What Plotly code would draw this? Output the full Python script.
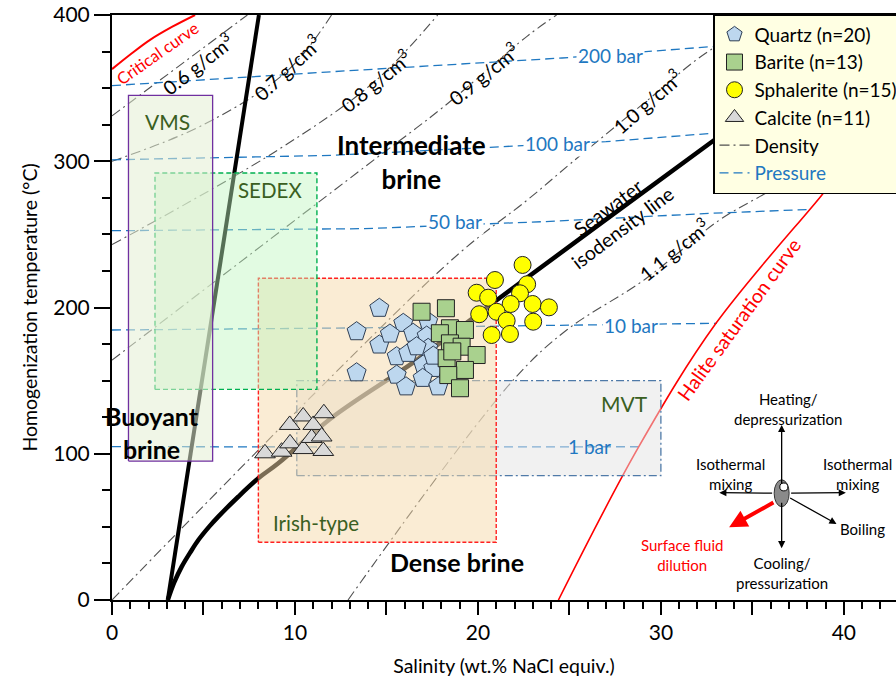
import plotly.graph_objects as go

# ---------------- data ----------------
quartz_x = [14.61, 13.37, 14.61, 13.37, 15.92, 15.19, 16.46, 17.28, 17.20, 15.56,
            16.19, 17.28, 17.01, 17.56, 15.56, 16.07, 16.98, 17.83, 17.56, 16.65]
quartz_y = [199.5, 183.5, 174.4, 155.4, 189.2, 181.9, 182.4, 190.3, 180.5, 166.4,
            168.7, 172.1, 160.7, 158.4, 153.8, 145.8, 151.6, 145.8, 166.8, 173.2]

barite_x = [16.92, 18.25, 18.47, 17.92, 19.29, 18.47, 19.11, 19.93, 18.29, 19.29, 18.38, 19.02, 18.60]
barite_y = [197.1, 199.5, 185.8, 182.4, 184.6, 175.5, 173.2, 167.5, 165.3, 157.3, 153.8, 144.8, 170.0]

sphal_x = [22.44, 20.93, 22.69, 19.93, 20.56, 22.30, 21.79, 22.99, 23.88, 20.07, 21.02, 21.57, 23.02, 20.75, 21.75]
sphal_y = [229.1, 218.8, 215.9, 210.1, 206.7, 209.7, 202.4, 202.4, 200.1, 195.4, 197.1, 191.0, 190.3, 181.2, 181.9]

calcite_x = [8.36, 9.27, 9.73, 10.45, 11.55, 9.71, 10.45, 11.00, 11.58, 10.91, 11.46]
calcite_y = [100.3, 101.4, 107.1, 103.2, 101.9, 119.7, 125.5, 119.7, 127.7, 110.8, 111.8]

# density isochores (g/cm3)
dens_labels = ["0.6", "0.7", "0.8", "0.9", "1.0", "1.1"]
dens_x = [[0, 7.4],
          [0, 5.0, 9.6, 12.0],
          [0, 9.1, 14.4, 17.8],
          [0, 13.8, 18.1, 22.7, 24.3],
          [0, 11.26, 19.0, 22.7, 25.1, 29.2, 32.7, 36.5],
          [12.9, 21.93, 24.85, 29.1, 33.2, 35.4, 37.5]]
dens_y = [[331, 400],
          [300, 325, 362, 400],
          [243, 308, 355, 400],
          [164, 296, 337, 385.6, 400],
          [0, 143.6, 237.3, 273.5, 298.8, 341, 376, 400],
          [0, 150.4, 184.6, 219, 259.8, 275.8, 290]]

# pressure lines (bar)
pres_labels = ["200 bar", "100 bar", "50 bar", "10 bar", "1 bar"]
pres_x = [[0, 12, 24.6, 32.7, 43],
          [0, 12, 22, 27, 32.7, 43],
          [0, 13.8, 23.6, 32.7, 38.0],
          [0, 12.9, 33.06],
          [0, 12.46, 28.8]]
pres_y = [[351.7, 361.2, 370.6, 378.3, 386],
          [301, 304, 310.4, 313.4, 319, 327],
          [252.5, 253.9, 258.7, 264.4, 267],
          [184.6, 186, 189.2],
          [104.9, 104.6, 104.8]]

seawater_x = [3.05, 3.4, 3.81, 4.3, 4.72, 5.3, 5.81, 6.9, 8.0, 9.09, 12.08, 16.65, 21.02, 32.68, 36.5]
seawater_y = [0, 12, 22.8, 33, 41, 50, 57, 70.6, 83.2, 93.5, 125.3, 164, 205, 312.3, 347]

buoyant_x = [3.05, 8.03]
buoyant_y = [0, 400]

critical_x = [0, 1.0, 2.08, 3.3, 4.54]
critical_y = [363, 373, 383, 392, 400]

halite_x = [24.4, 28.8, 33.0, 38.8, 39.6]
halite_y = [0, 105, 189, 277, 290]

# deposit-type fields: name, x0, x1, y0, y1
box_names = ["MVT", "Irish-type", "SEDEX", "VMS"]
box_x0 = [10.1, 8.0, 2.35, 0.9]
box_x1 = [30.0, 21.0, 11.2, 5.5]
box_y0 = [85, 39.5, 144, 95]
box_y1 = [150, 220, 292, 345]

x_tickvals = [0, 5, 10, 15, 20, 25, 30, 35, 40]
x_ticktext = ["0", "", "10", "", "20", "", "30", "", "40"]
y_tickvals = [0, 100, 200, 300, 400]

FONT = "Lato"
BLUE = "#1f78c1"
GREEN_TXT = "#3a5f22"

fig = go.Figure()

# density lines
for i, (xs, ys) in enumerate(zip(dens_x, dens_y)):
    fig.add_trace(go.Scatter(x=xs, y=ys, mode="lines", line_shape="spline",
                             line=dict(color="#505050", width=1.1, dash="10px,4px,2px,4px"),
                             name="Density", legendgroup="density", legendrank=5,
                             showlegend=(i == 0), hoverinfo="skip"))
# pressure lines
for i, (xs, ys) in enumerate(zip(pres_x, pres_y)):
    fig.add_trace(go.Scatter(x=xs, y=ys, mode="lines",
                             line=dict(color=BLUE, width=1.3, dash="9px,5px"),
                             name="<span style='color:%s'>Pressure</span>" % BLUE,
                             legendgroup="pressure", legendrank=6,
                             showlegend=(i == 0), hoverinfo="skip"))

# red curves
fig.add_trace(go.Scatter(x=critical_x, y=critical_y, mode="lines", line_shape="spline",
                         line=dict(color="red", width=2), showlegend=False))
fig.add_trace(go.Scatter(x=halite_x, y=halite_y, mode="lines", line_shape="spline",
                         line=dict(color="red", width=1.6), showlegend=False))

# thick black lines
fig.add_trace(go.Scatter(x=buoyant_x, y=buoyant_y, mode="lines",
                         line=dict(color="black", width=4), showlegend=False))
fig.add_trace(go.Scatter(x=seawater_x, y=seawater_y, mode="lines", line_shape="spline",
                         line=dict(color="black", width=4.5), showlegend=False))

# boxes
box_fill = {"MVT": "rgba(228,228,228,0.5)", "Irish-type": "rgba(245,218,170,0.5)",
            "SEDEX": "rgba(190,247,190,0.45)", "VMS": "rgba(228,238,212,0.55)"}
box_line = {"MVT": dict(color="#4f7aa8", width=1.3, dash="8px,3px,2px,3px"),
            "Irish-type": dict(color="#ff2020", width=1.4, dash="4px,2px"),
            "SEDEX": dict(color="#00b050", width=1.4, dash="5px,3px"),
            "VMS": dict(color="#7030a0", width=1.3)}
for n, a, b, c, d in zip(box_names, box_x0, box_x1, box_y0, box_y1):
    fig.add_trace(go.Scatter(x=[a, b, b, a, a], y=[c, c, d, d, c], mode="lines",
                             fill="toself", fillcolor=box_fill[n], line=box_line[n],
                             showlegend=False, hoverinfo="skip"))

# minerals
fig.add_trace(go.Scatter(x=calcite_x, y=calcite_y, mode="markers", name="Calcite (n=11)",
                         legendrank=4,
                         marker=dict(symbol="triangle-up", size=18, color="#d9d9d9",
                                     line=dict(color="#222", width=1))))
fig.add_trace(go.Scatter(x=quartz_x, y=quartz_y, mode="markers", name="Quartz (n=20)",
                         legendrank=1,
                         marker=dict(symbol="pentagon", size=20, color="#bdd7ee",
                                     line=dict(color="#2f3f55", width=1))))
fig.add_trace(go.Scatter(x=barite_x, y=barite_y, mode="markers", name="Barite (n=13)",
                         legendrank=2,
                         marker=dict(symbol="square", size=17, color="#a9d18e",
                                     line=dict(color="#222", width=1))))
fig.add_trace(go.Scatter(x=sphal_x, y=sphal_y, mode="markers", name="Sphalerite (n=15)",
                         legendrank=3,
                         marker=dict(symbol="circle", size=17, color="#ffff00",
                                     line=dict(color="#222", width=1))))

ann = []

def txt(x, y, s, size=17, color="black", angle=0, bold=False, bg=None):
    d = dict(x=x, y=y, xref="x", yref="y", text=("<b>%s</b>" % s) if bold else s,
             showarrow=False, textangle=angle,
             font=dict(family=FONT, size=size, color=color))
    if bg:
        d["bgcolor"] = bg
    ann.append(d)

# density labels
dens_pos = [(4.7, 366.5, -38), (9.56, 364.4, -43), (14.43, 354.9, -39),
            (20.33, 359.7, -39), (29.23, 341.2, -41), (30.71, 240, -39)]
for lab, (x, y, a) in zip(dens_labels, dens_pos):
    txt(x, y, lab + " g/cm<sup>3</sup>", 19.5, "black", a)

# pressure labels
pres_pos = [(27.27, 372.6, "white"), (24.37, 311.8, "white"), (18.74, 259.1, "white"),
            (28.36, 188, "white"), (26.12, 105.3, None)]
for lab, (x, y, bg) in zip(pres_labels, pres_pos):
    txt(x, y, lab, 19, BLUE, 0, False, bg)

txt(16.39, 299.5, "Intermediate<br>brine", 26, bold=True)
txt(18.85, 26, "Dense brine", 25, bold=True)
txt(2.19, 114.5, "Buoyant<br>brine", 25, bold=True)

txt(3.06, 327.5, "VMS", 21, GREEN_TXT)
txt(8.63, 280.3, "SEDEX", 20.5, GREEN_TXT)
txt(11.15, 52.6, "Irish-type", 20.5, GREEN_TXT)
txt(28.03, 134.7, "MVT", 21, GREEN_TXT)

txt(2.53, 373.8, "Critical curve", 16.5, "red", -35)
txt(34.26, 191.5, "Halite saturation curve", 19.5, "red", -54)
txt(27.1, 268.7, "Seawater", 19.5, "black", -37)
txt(27.92, 254.4, "isodensity line", 19.5, "black", -37)

# process diagram
cx, cy = 36.6, 73.0
tips = [(36.6, 119.7), (36.6, 35.4), (33.19, 73.4), (40.11, 73.4), (39.6, 52.0)]
for tx, ty in tips:
    ann.append(dict(x=tx, y=ty, ax=cx, ay=cy, xref="x", yref="y", axref="x", ayref="y",
                    text="", showarrow=True, arrowhead=2, arrowsize=1.1, arrowwidth=1.3,
                    arrowcolor="black", startstandoff=8))
ann.append(dict(x=33.73, y=49.7, ax=36.23, ay=67.2, xref="x", yref="y", axref="x", ayref="y",
                text="", showarrow=True, arrowhead=2, arrowsize=0.9, arrowwidth=4,
                arrowcolor="red"))
small = 15
txt(36.94, 130.5, "Heating/<br>depressurization", small)
txt(33.8, 86.2, "Isothermal<br>mixing", small)
txt(40.75, 86.2, "Isothermal<br>mixing", small)
txt(41.02, 48.5, "Boiling", small)
txt(36.6, 18.6, "Cooling/<br>pressurization", small)
txt(31.15, 31.1, "Surface fluid<br>dilution", small, "red")

shapes = [
    dict(type="circle", xref="x", yref="y", x0=36.19, x1=37.01, y0=63.8, y1=82.2,
         fillcolor="#8a8a8a", line=dict(color="#333", width=1), layer="above"),
    dict(type="circle", xref="x", yref="y", x0=36.50, x1=36.94, y0=74.6, y1=80.0,
         fillcolor="white", line=dict(color="black", width=1), layer="above"),
]

fig.update_layout(
    width=896, height=679,
    margin=dict(l=112, r=0, t=15, b=79, autoexpand=False),
    plot_bgcolor="white", paper_bgcolor="white",
    font=dict(family=FONT, size=18, color="black"),
    annotations=ann, shapes=shapes,
    legend=dict(x=0.7666, y=1.0017, xanchor="left", yanchor="top",
                bgcolor="#ffffe3", bordercolor="black", borderwidth=1.5,
                font=dict(family=FONT, size=19, color="black"),
                itemwidth=30, tracegroupgap=4, traceorder="normal"),
    xaxis=dict(range=[0, 42.85], showgrid=False, zeroline=False, showline=True,
               linecolor="black", linewidth=2, mirror=True, automargin=False,
               tickmode="array", tickvals=x_tickvals, ticktext=x_ticktext,
               ticks="outside", ticklen=13, tickwidth=2, tickcolor="black",
               minor=dict(tickmode="linear", tick0=0, dtick=1, ticks="outside",
                          ticklen=7, tickwidth=1.5, tickcolor="black"),
               tickfont=dict(family=FONT, size=21),
               title=dict(text="Salinity (wt.% NaCl equiv.)", font=dict(family=FONT, size=19.5),
                          standoff=16)),
    yaxis=dict(range=[0, 400], showgrid=False, zeroline=False, showline=True,
               linecolor="black", linewidth=2, automargin=False,
               tickmode="array", tickvals=y_tickvals,
               ticks="outside", ticklen=16, tickwidth=2, tickcolor="black",
               minor=dict(tickmode="linear", tick0=0, dtick=25, ticks="outside",
                          ticklen=8, tickwidth=1.5, tickcolor="black"),
               tickfont=dict(family=FONT, size=21),
               title=dict(text="Homogenization temperature (°C)", font=dict(family=FONT, size=19.5),
                          standoff=10)),
)

fig.write_html("out.html")
